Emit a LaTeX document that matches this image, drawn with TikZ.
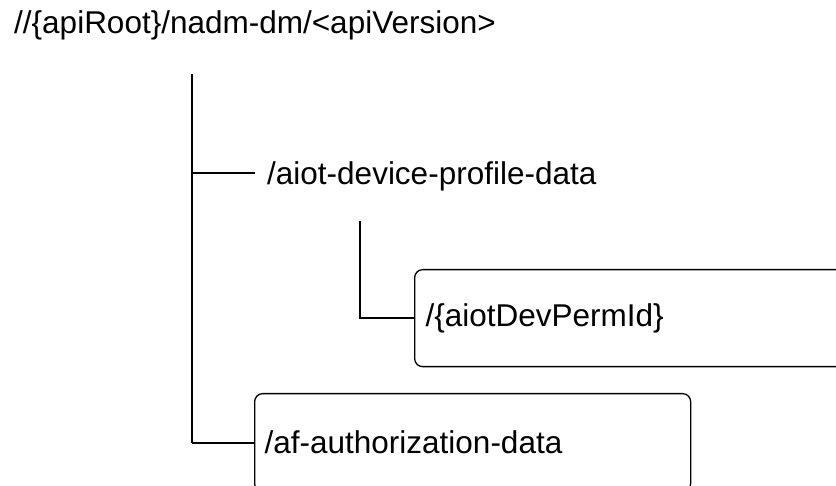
\documentclass[tikz,border=0pt]{standalone}
\usepackage{fontspec}
\setmainfont{Liberation Sans}
\begin{document}
\begin{tikzpicture}[x=1pt,y=-1pt,
  lbl/.style={inner sep=0pt,font=\fontsize{31.5}{36}\selectfont},
  res/.style={draw,line width=1.3pt,rounded corners=8pt,anchor=north west,
    align=left,font=\fontsize{31.5}{36}\selectfont,inner ysep=0pt},
  ln/.style={line width=1.3pt}]
\useasboundingbox (0,0) rectangle (836,486);
\clip (0,0) rectangle (836,486);
\node[lbl,anchor=base west] (root) at (14,34) {//\{apiRoot\}/nadm-dm/<apiVersion>};
\coordinate (vtop) at (192,74);
\coordinate (vbot) at (192,443);
\coordinate (b1) at (192,173);
\coordinate (b1e) at (255,173);
\node[lbl,anchor=base west] (prof) at (267,185) {/aiot-device-profile-data};
\node[res,minimum width=436pt,minimum height=97pt,text width=414pt,inner xsep=11pt] (perm) at (414,269) {/\{aiotDevPermId\}};
\node[res,minimum width=436pt,minimum height=98pt,text width=416pt,inner xsep=10pt] (af) at (254,393) {/af-authorization-data};
\coordinate (v2top) at (360,221);
\coordinate (v2bot) at (360,318);
\draw[ln] (vtop) -- (vbot);
\draw[ln] (b1) -- (b1e);
\draw[ln] (v2top) -- (v2bot) -- (perm.west |- v2bot);
\draw[ln] (vbot) -- (af.west |- vbot);
\end{tikzpicture}
\end{document}
